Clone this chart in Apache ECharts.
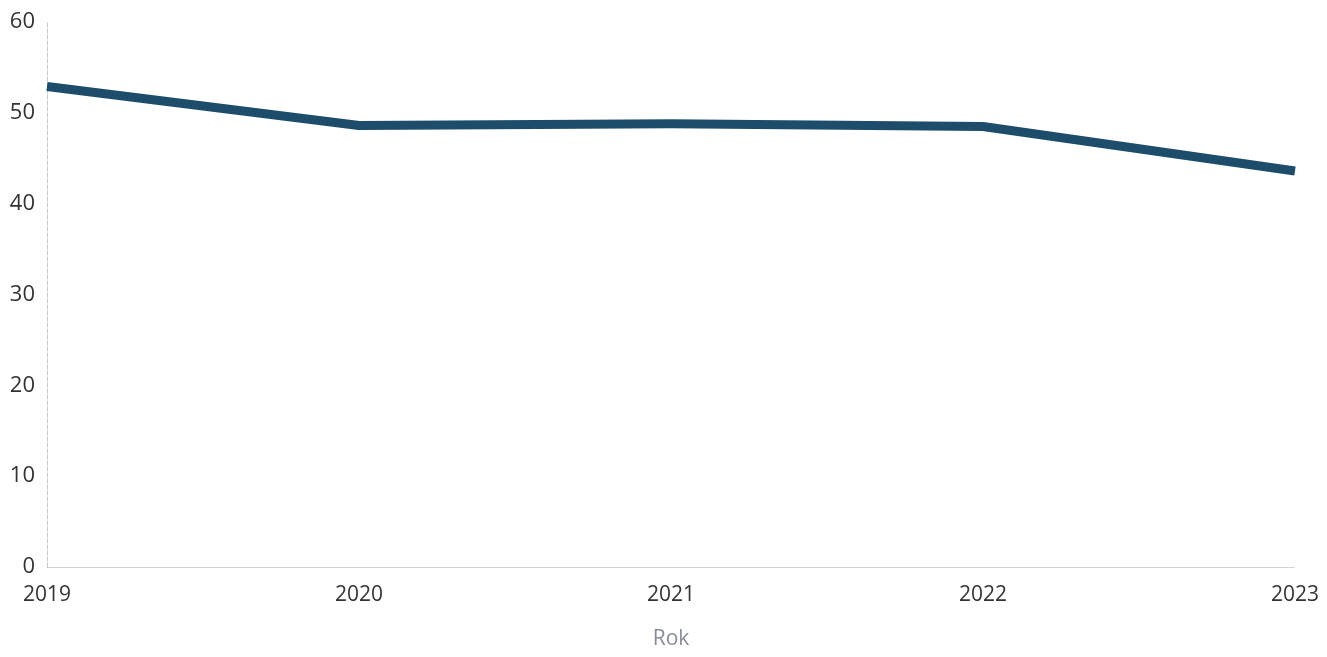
<!DOCTYPE html>
<html><head><meta charset="utf-8">
<script src="https://cdn.jsdelivr.net/npm/echarts@6/dist/echarts.min.js"></script>
<style>html,body{margin:0;padding:0;background:#fff}#c{width:1327px;height:657px}</style>
</head><body><div id="c"></div>
<script>
const years = ['2019','2020','2021','2022','2023'];
const values = [52.9, 48.6, 48.8, 48.5, 43.6];
const yTicks = [0,10,20,30,40,50,60];

const chart = echarts.init(document.getElementById('c'), null, {renderer:'canvas'});
chart.setOption({
  animation:false,
  backgroundColor:'#ffffff',
  grid:{left:47,right:32,top:22,bottom:90,containLabel:false},
  xAxis:{
    type:'category', data:years, boundaryGap:false,
    name:'Rok', nameLocation:'middle', nameGap:62,
    nameTextStyle:{color:'#8a8d98',fontSize:21,fontFamily:'Open Sans'},
    axisLine:{show:true,lineStyle:{color:'#c8c8c8',type:'dotted',width:1}},
    axisTick:{show:false},
    axisLabel:{color:'#333',fontSize:21,fontFamily:'Open Sans',margin:18},
    splitLine:{show:false}
  },
  yAxis:{
    type:'value', min:0, max:60, interval:10,
    axisLine:{show:true,lineStyle:{color:'#c8c8c8',type:'dashed',width:1}},
    axisTick:{show:false},
    axisLabel:{color:'#333',fontSize:22,fontFamily:'Open Sans',margin:12,
      formatter:v=>yTicks.includes(v)?String(v):''},
    splitLine:{show:false}
  },
  series:[{
    type:'line', data:values, symbol:'none',
    lineStyle:{color:'#1d4d6b',width:9,cap:'butt',join:'round'}
  }]
});
</script></body></html>
